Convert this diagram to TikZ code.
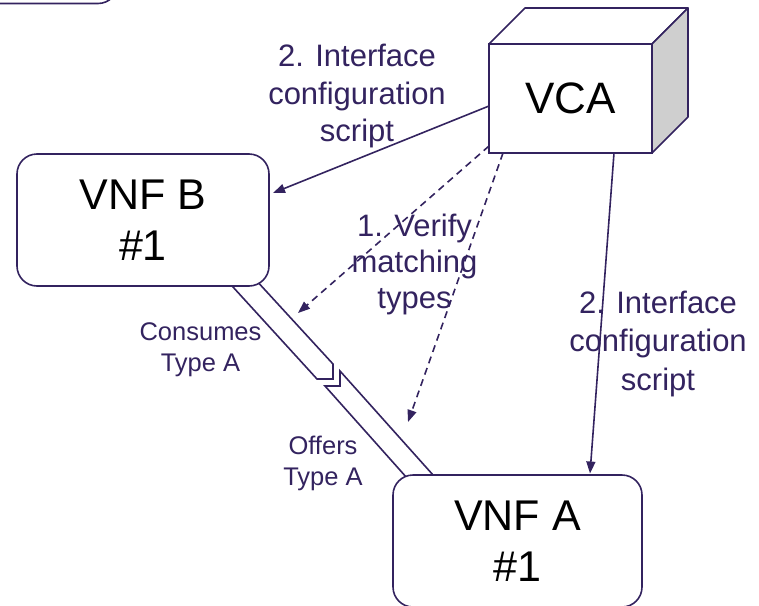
\documentclass[tikz,border=0pt]{standalone}
\usepackage{fontspec}
\setmainfont{Liberation Sans}
\usetikzlibrary{arrows.meta,calc}
\definecolor{ink}{HTML}{33235F}
\definecolor{sideface}{HTML}{CFCFCF}

\begin{document}
\begin{tikzpicture}[x=1pt,y=-1pt,
  line width=1.6pt,
  every node/.style={outer sep=0pt, inner sep=0pt},
  box/.style={draw=ink, fill=white, rounded corners=20pt, align=center, text=black,
    font=\fontsize{43}{51.5}\selectfont},
  note/.style={text=ink, align=center, anchor=base, font=\fontsize{31}{37.5}\selectfont},
  tag/.style={text=ink, align=center, anchor=base, font=\fontsize{25.5}{30.5}\selectfont},
  arr/.style={draw=ink, -{Triangle[length=12pt,width=9pt]}},
  chk/.style={arr, dash pattern=on 7pt off 5pt},
  pipe/.style={draw=ink, line join=miter}]

\useasboundingbox (0,0) rectangle (759,605);
\clip (0,0) rectangle (759,605);

% interface pipe between the two VNFs: consumer part with a pointed end,
% offering part with the matching notch
\draw[pipe] (226.6,280) -- (317,379) -- (333,379) -- (333,364) -- (254.5,278.5);
\draw[pipe] (411.3,482.8) -- (325,386) -- (340,386) -- (340,371) -- (439.3,482);

% neighbouring box, mostly outside the frame
\node[box, minimum width=160pt, minimum height=80pt] (prev) at (38,-36.5) {};

% the VNF boxes
\node[box, minimum width=252pt, minimum height=132pt] (vnfb) at (143,220) {VNF B\\\#1};
\node[box, minimum width=249pt, minimum height=132pt] (vnfa) at (517.5,541) {VNF A\\\#1};

% VCA drawn as a box in perspective
\node[draw=ink, fill=white, minimum width=163pt, minimum height=109pt,
  font=\fontsize{44}{52}\selectfont] (vca) at (570.5,98.5) {VCA};
\draw[draw=ink, fill=white, line join=round]
  (vca.north west) -- ++(36,-36) -- ++(163,0) -- (vca.north east) -- cycle;
\draw[draw=ink, fill=sideface, line join=round]
  (vca.north east) -- ++(36,-36) -- ++(0,109) -- (vca.south east) -- cycle;

% points on the pipe that the type check looks at
\coordinate (chkB) at (298,313);
\coordinate (chkA) at (408,422);

% connectors
\draw[arr] ([shift={(0,7.5)}]vca.west) -- ([shift={(4,-27)}]vnfb.east);
\draw[arr] ([shift={(43.5,0)}]vca.south) -- ([shift={(72.5,-1.5)}]vnfa.north);
\draw[chk] ([shift={(0,-7)}]vca.south west) -- (chkB);
\draw[chk] ([shift={(14,0)}]vca.south west) -- (chkA);

% labels (anchored at the baseline of their last line)
\node[note] (cfgB) at (357,141.5) {2. Interface\\configuration\\script};
\node[note, font=\fontsize{31}{36}\selectfont] (verify) at (414.5,308) {1. Verify\\matching\\types};
\node[note, font=\fontsize{31}{38.5}\selectfont] (cfgA) at (658,390) {2. Interface\\configuration\\script};
\node[tag] (consumes) at (200.5,371.2) {Consumes\\Type A};
\node[tag, font=\fontsize{25.5}{31}\selectfont] (offers) at (323,485) {Offers\\Type A};
\end{tikzpicture}
\end{document}
